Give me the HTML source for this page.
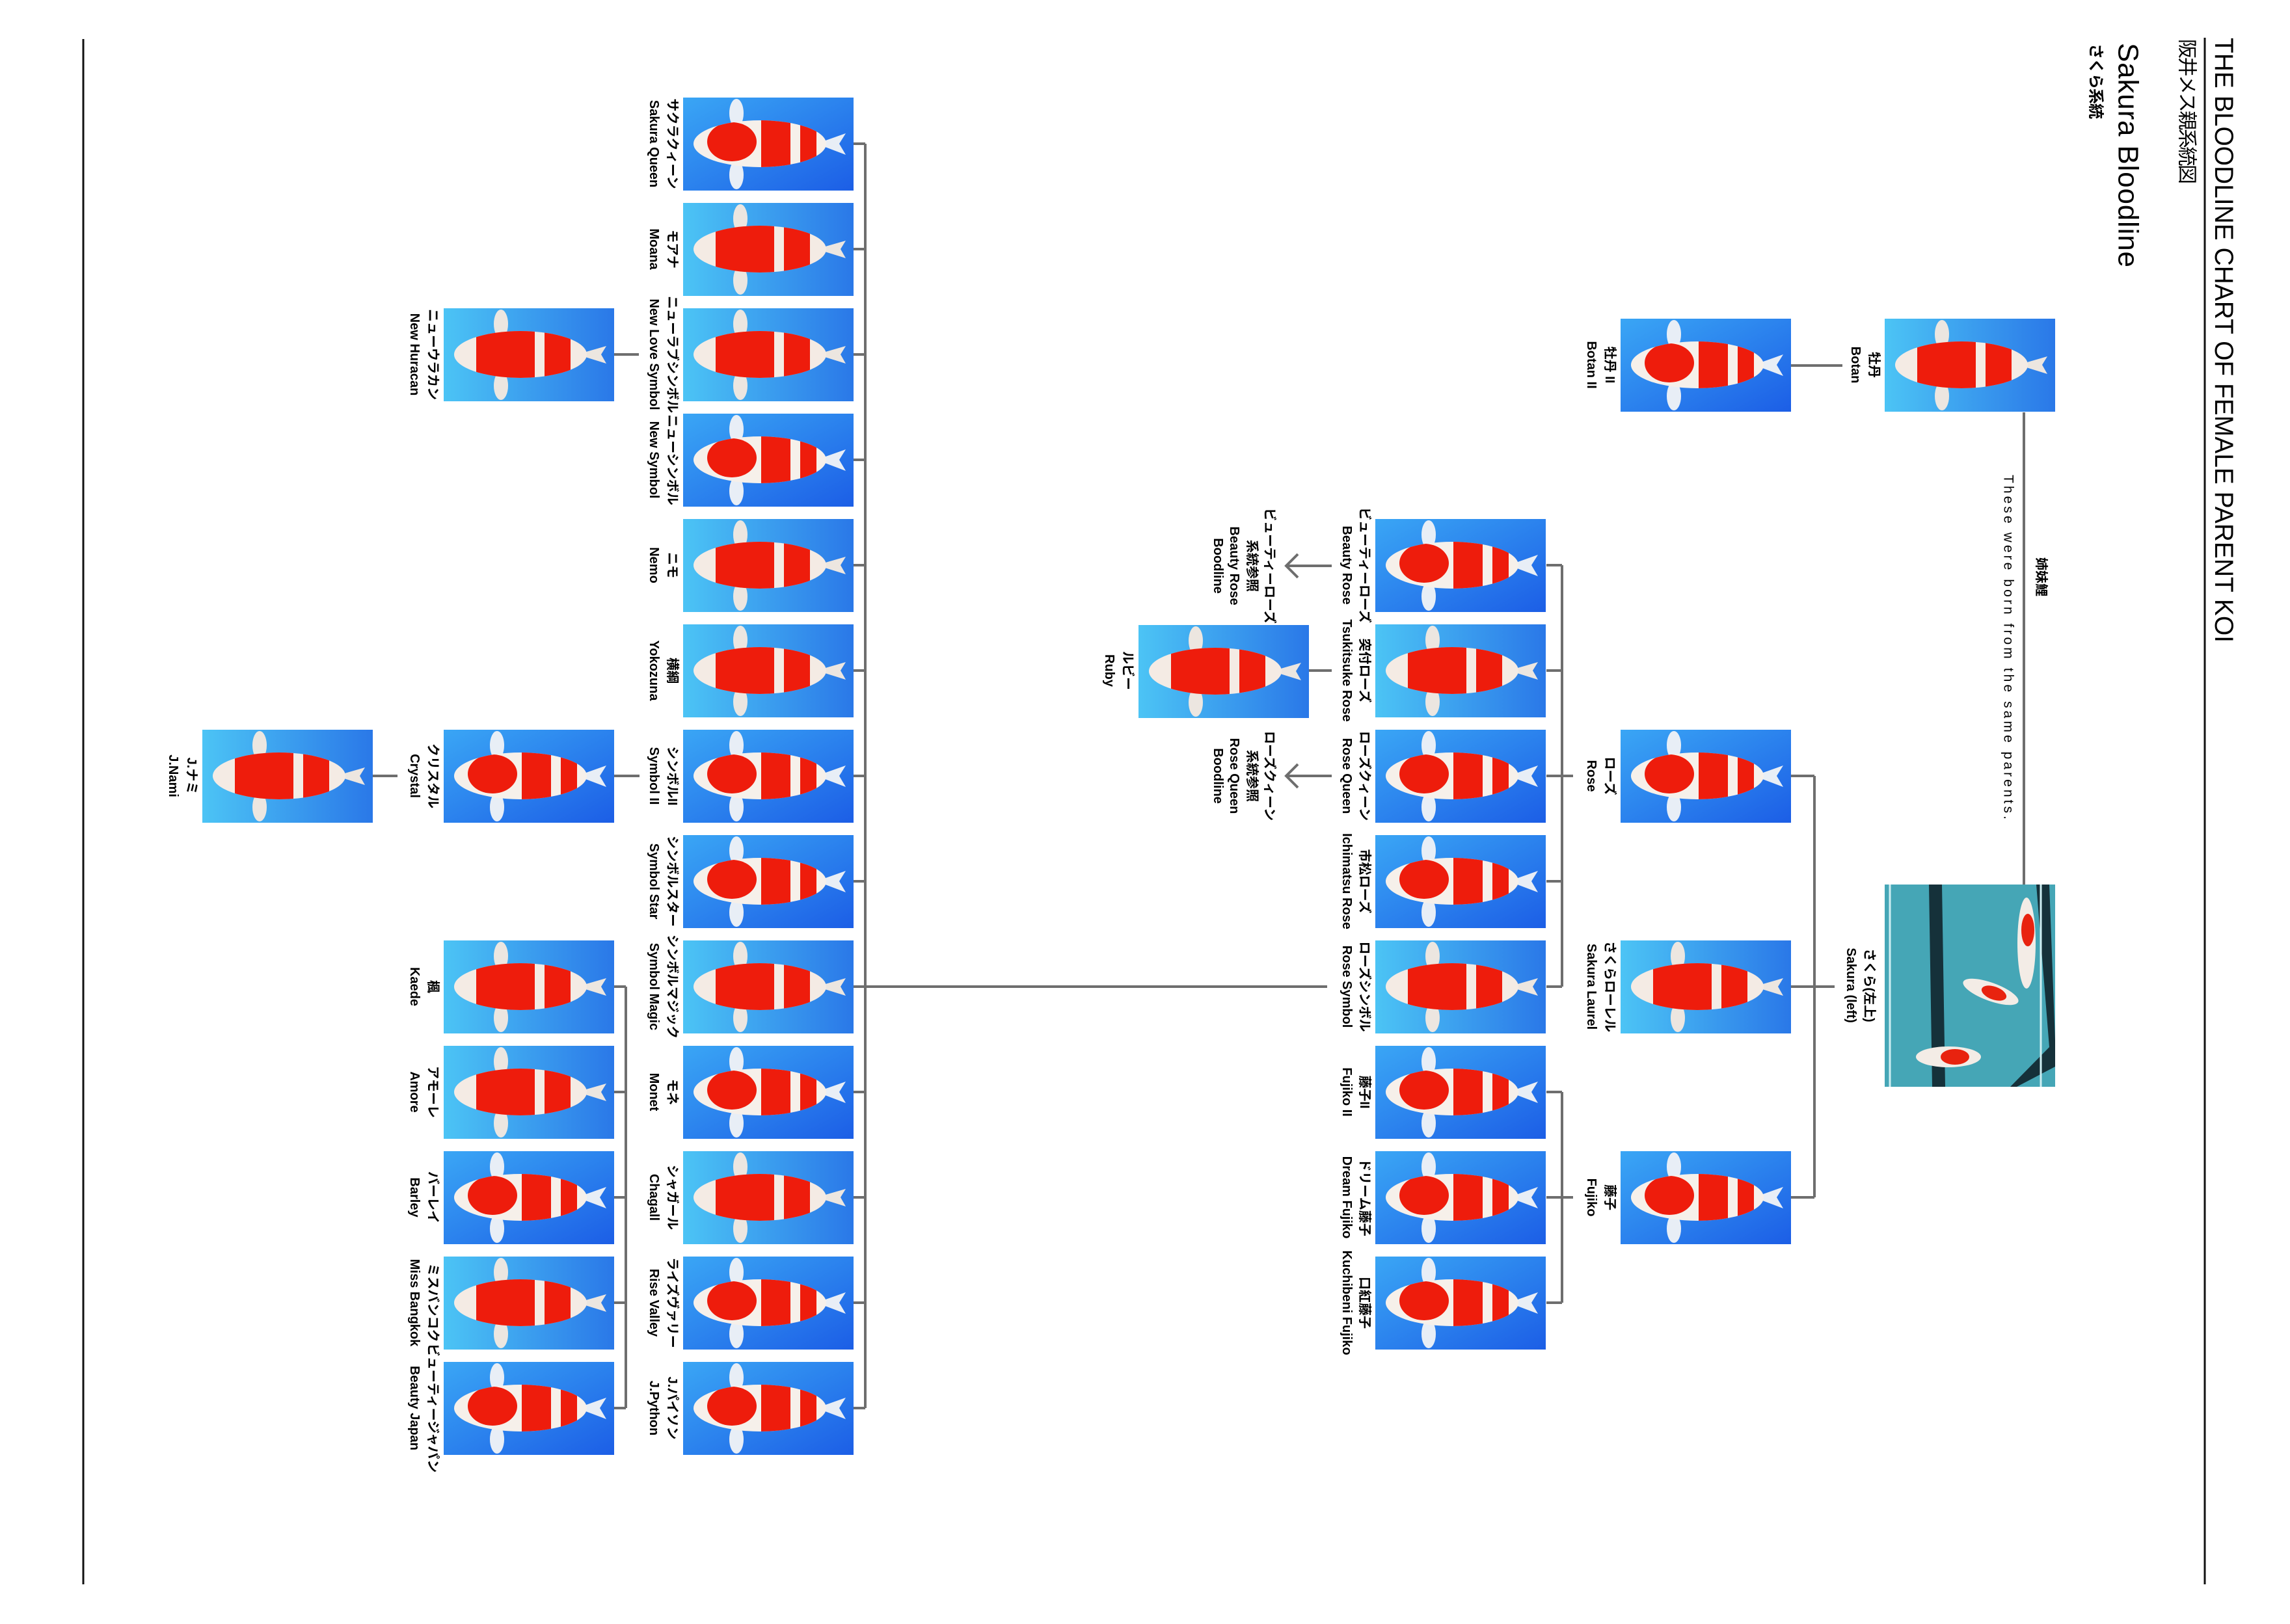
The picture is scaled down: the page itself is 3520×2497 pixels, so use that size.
<!DOCTYPE html>
<html><head><meta charset="utf-8"><style>
html,body{margin:0;padding:0;background:#fff;}
svg{display:block}
.jp{font-family:"Liberation Sans","Noto Sans CJK JP",sans-serif;font-weight:bold;font-size:20px;fill:#000}
.en{font-family:"Liberation Sans","Noto Sans CJK JP",sans-serif;font-weight:bold;font-size:20px;fill:#000}
.ln{stroke:#6e6e6e;stroke-width:4;fill:none}
</style></head><body>
<svg width="3520" height="2497" viewBox="0 0 3520 2497" xmlns="http://www.w3.org/2000/svg">
<defs>
<linearGradient id="bg" x1="0" y1="0" x2="1" y2="1">
<stop offset="0" stop-color="#3aa6f5"/><stop offset="1" stop-color="#1c5ee6"/></linearGradient>
<linearGradient id="bg2" x1="0" y1="0" x2="1" y2="0">
<stop offset="0" stop-color="#4cc4f5"/><stop offset="1" stop-color="#2a78e8"/></linearGradient>
<clipPath id="bd"><ellipse cx="118" cy="71" rx="102" ry="36"/></clipPath>
<symbol id="k1" viewBox="0 0 262 143">
<rect width="262" height="143" fill="url(#bg)"/>
<ellipse cx="82" cy="24" rx="11" ry="22" fill="#e8eef6"/>
<ellipse cx="82" cy="119" rx="11" ry="22" fill="#e8eef6"/>
<path d="M205 71 L250 55 L240 71 L250 88 Z" fill="#e8eef6"/>
<ellipse cx="118" cy="71" rx="102" ry="36" fill="#f6f0ea"/>
<g clip-path="url(#bd)" fill="#ee1c0c">
<ellipse cx="75" cy="68" rx="38" ry="30"/><rect x="120" y="35" width="45" height="75"/><rect x="180" y="40" width="25" height="60"/></g>
</symbol>
<symbol id="k2" viewBox="0 0 262 143">
<rect width="262" height="143" fill="url(#bg2)"/>
<ellipse cx="88" cy="24" rx="11" ry="22" fill="#ece6e0"/>
<ellipse cx="88" cy="119" rx="11" ry="22" fill="#ece6e0"/>
<path d="M205 71 L250 58 L242 71 L250 85 Z" fill="#ece6e0"/>
<ellipse cx="118" cy="71" rx="102" ry="36" fill="#f4ebe4"/>
<g clip-path="url(#bd)" fill="#ee1c0c">
<rect x="50" y="30" width="90" height="80"/><rect x="155" y="35" width="40" height="75"/></g>
</symbol>
</defs>

<line x1="128" y1="60" x2="128" y2="2436" stroke="#111" stroke-width="3"/>
<line x1="3389" y1="58" x2="3389" y2="2436" stroke="#111" stroke-width="3"/>

<text transform="translate(3418,58) rotate(90)" dominant-baseline="central" font-family="Liberation Sans,sans-serif" font-size="40" textLength="930" lengthAdjust="spacingAndGlyphs">THE BLOODLINE CHART OF FEMALE PARENT KOI</text>
<text transform="translate(3361,60) rotate(90)" dominant-baseline="central" font-family="Liberation Sans,'Noto Sans CJK JP',sans-serif" font-size="30" textLength="223">阪井メス親系統図</text>
<text transform="translate(3271,66) rotate(90)" dominant-baseline="central" font-family="Liberation Sans,sans-serif" font-size="44" textLength="345">Sakura Bloodline</text>
<text transform="translate(3221,67) rotate(90)" dominant-baseline="central" font-family="Liberation Sans,'Noto Sans CJK JP',sans-serif" font-size="24" font-weight="bold" textLength="116">さくら系統</text>
<text transform="translate(3137,887) rotate(90)" text-anchor="middle" dominant-baseline="central" class="jp">姉妹鯉</text>
<text transform="translate(3087,730) rotate(90)" dominant-baseline="central" font-family="Liberation Sans,sans-serif" font-size="21" textLength="530">These were born from the same parents.</text>

<g class="ln">
<line x1="1330" y1="221" x2="1330" y2="2165"/>
<path d="M1312 221H1330M1312 383H1330M1312 545H1330M1312 707H1330M1312 869H1330M1312 1031H1330M1312 1193H1330M1312 1355H1330M1312 1517H1330M1312 1679H1330M1312 1841H1330M1312 2003H1330M1312 2165H1330"/>
<line x1="1330" y1="1517" x2="2040" y2="1517"/>
<line x1="962" y1="1517" x2="962" y2="2165"/>
<path d="M944 1517H962M944 1679H962M944 1841H962M944 2003H962M944 2165H962"/>
<path d="M572 1193H611M943 1193H983M943 545H982M2012 1031H2047"/>
<line x1="2401" y1="869" x2="2401" y2="1517"/>
<path d="M2377 869H2401M2377 1031H2401M2377 1193H2401M2377 1355H2401M2377 1517H2401M2401 1193H2418"/>
<line x1="2401" y1="1679" x2="2401" y2="2003"/>
<path d="M2377 1679H2401M2377 1841H2401M2377 2003H2401M2401 1841H2418"/>
<line x1="2789" y1="1193" x2="2789" y2="1841"/>
<path d="M2752 1193H2789M2752 1517H2789M2752 1841H2789M2789 1517H2820"/>
<line x1="2752" y1="562" x2="2832" y2="562"/>
<line x1="3111" y1="634" x2="3111" y2="1360"/>
<path d="M2047 870H1977M1995 852L1977 870L1995 888"/>
<path d="M2047 1193H1977M1995 1175L1977 1193L1995 1211"/>
</g>

<use href="#k1" x="1050" y="150" width="262" height="143"/>
<use href="#k2" x="1050" y="312" width="262" height="143"/>
<use href="#k2" x="1050" y="474" width="262" height="143"/>
<use href="#k1" x="1050" y="636" width="262" height="143"/>
<use href="#k2" x="1050" y="798" width="262" height="143"/>
<use href="#k2" x="1050" y="960" width="262" height="143"/>
<use href="#k1" x="1050" y="1122" width="262" height="143"/>
<use href="#k1" x="1050" y="1284" width="262" height="143"/>
<use href="#k2" x="1050" y="1446" width="262" height="143"/>
<use href="#k1" x="1050" y="1608" width="262" height="143"/>
<use href="#k2" x="1050" y="1770" width="262" height="143"/>
<use href="#k1" x="1050" y="1932" width="262" height="143"/>
<use href="#k1" x="1050" y="2094" width="262" height="143"/>
<use href="#k2" x="682" y="474" width="262" height="143"/>
<use href="#k1" x="682" y="1122" width="262" height="143"/>
<use href="#k2" x="682" y="1446" width="262" height="143"/>
<use href="#k2" x="682" y="1608" width="262" height="143"/>
<use href="#k1" x="682" y="1770" width="262" height="143"/>
<use href="#k2" x="682" y="1932" width="262" height="143"/>
<use href="#k1" x="682" y="2094" width="262" height="143"/>
<use href="#k2" x="311" y="1122" width="262" height="143"/>
<use href="#k2" x="1750" y="961" width="262" height="143"/>
<use href="#k1" x="2114" y="798" width="262" height="143"/>
<use href="#k2" x="2114" y="960" width="262" height="143"/>
<use href="#k1" x="2114" y="1122" width="262" height="143"/>
<use href="#k1" x="2114" y="1284" width="262" height="143"/>
<use href="#k2" x="2114" y="1446" width="262" height="143"/>
<use href="#k1" x="2114" y="1608" width="262" height="143"/>
<use href="#k1" x="2114" y="1770" width="262" height="143"/>
<use href="#k1" x="2114" y="1932" width="262" height="143"/>
<use href="#k1" x="2491" y="1122" width="262" height="143"/>
<use href="#k2" x="2491" y="1446" width="262" height="143"/>
<use href="#k1" x="2491" y="1770" width="262" height="143"/>
<use href="#k1" x="2491" y="490" width="262" height="143"/>
<use href="#k2" x="2897" y="490" width="262" height="143"/>

<g>
<rect x="2897" y="1360" width="262" height="311" fill="#45a6b6"/>
<polygon points="2965,1360 2985,1360 2990,1671 2970,1671" fill="#15313a"/>
<polygon points="3130,1360 3150,1360 3159,1600 3159,1640 3100,1671 3090,1671 3150,1610" fill="#15313a"/>
<line x1="2905" y1="1360" x2="2905" y2="1671" stroke="#cfeff3" stroke-width="3"/>
<line x1="3137" y1="1360" x2="3137" y2="1671" stroke="#cfeff3" stroke-width="3"/>
<ellipse cx="3115" cy="1450" rx="14" ry="70" fill="#f3ece6"/>
<ellipse cx="3117" cy="1430" rx="10" ry="25" fill="#e8230f"/>
<ellipse cx="3060" cy="1525" rx="45" ry="14" fill="#f3ece6" transform="rotate(20 3060 1525)"/>
<ellipse cx="3065" cy="1527" rx="20" ry="10" fill="#e8230f" transform="rotate(20 3065 1527)"/>
<ellipse cx="2995" cy="1625" rx="50" ry="16" fill="#f3ece6"/>
<ellipse cx="3005" cy="1625" rx="22" ry="12" fill="#e8230f"/>
</g>

<g text-anchor="middle" dominant-baseline="central">
<text class="jp" transform="translate(1033,221) rotate(90)">サクラクィーン</text><text class="en" transform="translate(1005,221) rotate(90)">Sakura Queen</text>
<text class="jp" transform="translate(1033,383) rotate(90)">モアナ</text><text class="en" transform="translate(1005,383) rotate(90)">Moana</text>
<text class="jp" transform="translate(1033,545) rotate(90)">ニューラブシンボル</text><text class="en" transform="translate(1005,545) rotate(90)">New Love Symbol</text>
<text class="jp" transform="translate(1033,707) rotate(90)">ニューシンボル</text><text class="en" transform="translate(1005,707) rotate(90)">New Symbol</text>
<text class="jp" transform="translate(1033,869) rotate(90)">ニモ</text><text class="en" transform="translate(1005,869) rotate(90)">Nemo</text>
<text class="jp" transform="translate(1033,1031) rotate(90)">横綱</text><text class="en" transform="translate(1005,1031) rotate(90)">Yokozuna</text>
<text class="jp" transform="translate(1033,1193) rotate(90)">シンボルII</text><text class="en" transform="translate(1005,1193) rotate(90)">Symbol II</text>
<text class="jp" transform="translate(1033,1355) rotate(90)">シンボルスター</text><text class="en" transform="translate(1005,1355) rotate(90)">Symbol Star</text>
<text class="jp" transform="translate(1033,1517) rotate(90)">シンボルマジック</text><text class="en" transform="translate(1005,1517) rotate(90)">Symbol Magic</text>
<text class="jp" transform="translate(1033,1679) rotate(90)">モネ</text><text class="en" transform="translate(1005,1679) rotate(90)">Monet</text>
<text class="jp" transform="translate(1033,1841) rotate(90)">シャガール</text><text class="en" transform="translate(1005,1841) rotate(90)">Chagall</text>
<text class="jp" transform="translate(1033,2003) rotate(90)">ライズヴァリー</text><text class="en" transform="translate(1005,2003) rotate(90)">Rise Valley</text>
<text class="jp" transform="translate(1033,2165) rotate(90)">J.パイソン</text><text class="en" transform="translate(1005,2165) rotate(90)">J.Python</text>
<text class="jp" transform="translate(665,545) rotate(90)">ニューウラカン</text><text class="en" transform="translate(637,545) rotate(90)">New Huracan</text>
<text class="jp" transform="translate(665,1193) rotate(90)">クリスタル</text><text class="en" transform="translate(637,1193) rotate(90)">Crystal</text>
<text class="jp" transform="translate(665,1517) rotate(90)">楓</text><text class="en" transform="translate(637,1517) rotate(90)">Kaede</text>
<text class="jp" transform="translate(665,1679) rotate(90)">アモーレ</text><text class="en" transform="translate(637,1679) rotate(90)">Amore</text>
<text class="jp" transform="translate(665,1841) rotate(90)">バーレイ</text><text class="en" transform="translate(637,1841) rotate(90)">Barley</text>
<text class="jp" transform="translate(665,2003) rotate(90)">ミスバンコク</text><text class="en" transform="translate(637,2003) rotate(90)">Miss Bangkok</text>
<text class="jp" transform="translate(665,2165) rotate(90)">ビューティージャパン</text><text class="en" transform="translate(637,2165) rotate(90)">Beauty Japan</text>
<text class="jp" transform="translate(294,1193) rotate(90)">J.ナミ</text><text class="en" transform="translate(266,1193) rotate(90)">J.Nami</text>
<text class="jp" transform="translate(1733,1031) rotate(90)">ルビー</text><text class="en" transform="translate(1705,1031) rotate(90)">Ruby</text>
<text class="jp" transform="translate(2097,869) rotate(90)">ビューティーローズ</text><text class="en" transform="translate(2070,869) rotate(90)">Beauty Rose</text>
<text class="jp" transform="translate(2097,1031) rotate(90)">突付ローズ</text><text class="en" transform="translate(2070,1031) rotate(90)">Tsukitsuke Rose</text>
<text class="jp" transform="translate(2097,1193) rotate(90)">ローズクィーン</text><text class="en" transform="translate(2070,1193) rotate(90)">Rose Queen</text>
<text class="jp" transform="translate(2097,1355) rotate(90)">市松ローズ</text><text class="en" transform="translate(2070,1355) rotate(90)">Ichimatsu Rose</text>
<text class="jp" transform="translate(2097,1517) rotate(90)">ローズシンボル</text><text class="en" transform="translate(2070,1517) rotate(90)">Rose Symbol</text>
<text class="jp" transform="translate(2097,1679) rotate(90)">藤子II</text><text class="en" transform="translate(2070,1679) rotate(90)">Fujiko II</text>
<text class="jp" transform="translate(2097,1841) rotate(90)">ドリーム藤子</text><text class="en" transform="translate(2070,1841) rotate(90)">Dream Fujiko</text>
<text class="jp" transform="translate(2097,2003) rotate(90)">口紅藤子</text><text class="en" transform="translate(2070,2003) rotate(90)">Kuchibeni Fujiko</text>
<text class="jp" transform="translate(1951,870) rotate(90)">ビューティーローズ</text>
<text class="jp" transform="translate(1924,870) rotate(90)">系統参照</text>
<text class="en" transform="translate(1897,870) rotate(90)">Beauty Rose</text>
<text class="en" transform="translate(1872,870) rotate(90)">Boodline</text>
<text class="jp" transform="translate(1951,1193) rotate(90)">ローズクィーン</text>
<text class="jp" transform="translate(1924,1193) rotate(90)">系統参照</text>
<text class="en" transform="translate(1897,1193) rotate(90)">Rose Queen</text>
<text class="en" transform="translate(1872,1193) rotate(90)">Boodline</text>
<text class="jp" transform="translate(2474,1193) rotate(90)">ローズ</text><text class="en" transform="translate(2446,1193) rotate(90)">Rose</text>
<text class="jp" transform="translate(2474,1517) rotate(90)">さくらローレル</text><text class="en" transform="translate(2446,1517) rotate(90)">Sakura Laurel</text>
<text class="jp" transform="translate(2474,1841) rotate(90)">藤子</text><text class="en" transform="translate(2446,1841) rotate(90)">Fujiko</text>
<text class="jp" transform="translate(2474,561) rotate(90)">牡丹 II</text><text class="en" transform="translate(2446,561) rotate(90)">Botan II</text>
<text class="jp" transform="translate(2880,561) rotate(90)">牡丹</text><text class="en" transform="translate(2852,561) rotate(90)">Botan</text>
<text class="jp" transform="translate(2873,1515) rotate(90)">さくら(左上)</text><text class="en" transform="translate(2845,1515) rotate(90)">Sakura (left)</text>
</g>
</svg>
</body></html>
